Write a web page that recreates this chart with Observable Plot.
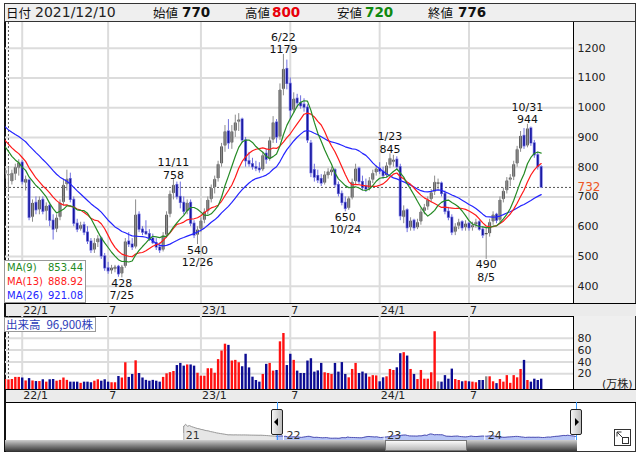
<!DOCTYPE html>
<html><head><meta charset="utf-8">
<script src="https://cdn.jsdelivr.net/npm/d3@7"></script>
<script src="https://cdn.jsdelivr.net/npm/@observablehq/plot@0.6"></script>
<style>
body{margin:0;background:#fff;font-family:"DejaVu Sans","Noto Sans CJK JP",sans-serif;}
#root{position:relative;width:640px;height:455px;overflow:hidden;background:#fff;}
.a{position:absolute;box-sizing:border-box;}
.hd{position:absolute;top:3px;height:19px;line-height:19px;white-space:nowrap;}
.cjk{font-family:"Noto Sans CJK JP",sans-serif;font-size:12.5px;color:#111;}
.num{font-family:"DejaVu Sans",sans-serif;font-weight:bold;font-size:13.5px;color:#111;}
.ma{position:absolute;left:2px;right:2px;height:14px;line-height:14px;font-size:10px;font-family:"DejaVu Sans",sans-serif;}
.ma span{position:absolute;right:0;}
</style></head>
<body><div id="root">
  <div class="a" style="left:4px;top:3px;width:632px;height:449px;border:1px solid #333;"></div>
  <div class="a" style="left:4px;top:3px;width:632px;height:19px;background:#efefef;border:1px solid #333;"></div>
  <div class="a" style="left:573px;top:22px;width:63px;height:281px;background:#efefef;border-left:1px solid #000;border-right:1px solid #333;"></div>
  <div class="a" style="left:4px;top:303px;width:632px;height:14px;background:#ebebeb;border-top:1px solid #000;border-bottom:1px solid #000;"></div>
  <div class="a" style="left:573px;top:316px;width:63px;height:74px;background:#efefef;border-left:1px solid #000;border-right:1px solid #333;"></div>
  <div class="a" style="left:4px;top:389px;width:632px;height:14px;background:#ebebeb;border-top:1px solid #000;border-bottom:1px solid #000;"></div>
  <div class="a" style="left:4px;top:22px;width:2px;height:430px;background:#111;"></div>

  <span class="hd cjk" style="left:6px">日付</span>
  <span class="hd" style="left:35px;font-size:14px;color:#222;">2021/12/10</span>
  <span class="hd cjk" style="left:153px">始値</span>
  <span class="hd num" style="left:182px">770</span>
  <span class="hd cjk" style="left:245px">高値</span>
  <span class="hd num" style="left:272px;color:#e8000b">800</span>
  <span class="hd cjk" style="left:337px">安値</span>
  <span class="hd num" style="left:365px;color:#108a10">720</span>
  <span class="hd cjk" style="left:428px">終値</span>
  <span class="hd num" style="left:458px">776</span>

  <div id="price" class="a" style="left:0;top:22px;"></div>
  <div id="vol" class="a" style="left:0;top:316px;"></div>
  <div id="nav" class="a" style="left:0;top:402px;"></div>

  <div class="a" style="left:4px;top:260px;width:82px;height:43px;background:#fff;border:1px solid #999;">
    <div class="ma" style="top:0;color:#248a24">MA(9)<span>853.44</span></div>
    <div class="ma" style="top:14px;color:#ff2020">MA(13)<span>888.92</span></div>
    <div class="ma" style="top:28px;color:#2424ff">MA(26)<span>921.08</span></div>
  </div>
  <div class="a" style="left:4px;top:317px;width:92px;height:15px;background:#fff;border:1px solid #999;color:#2d3cb8;font-family:'Noto Sans CJK JP',sans-serif;font-size:11.5px;line-height:13px;">
    <span style="position:absolute;left:1px;">出来高</span><span style="position:absolute;right:2px;">96,900株</span>
  </div>

  <div class="a" style="left:277px;top:402px;width:1px;height:38px;background:#3a9bff;"></div>
  <div class="a" style="left:576px;top:402px;width:1px;height:38px;background:#3a9bff;"></div>
  <div class="a" style="left:271px;top:409px;width:12px;height:26px;border:1px solid #222;border-radius:2px;background:linear-gradient(90deg,#f6f6f6,#bdbdbd);"></div>
  <div class="a" style="left:274px;top:418px;width:0;height:0;border-top:4px solid transparent;border-bottom:4px solid transparent;border-right:4px solid #000;"></div>
  <div class="a" style="left:570px;top:409px;width:12px;height:26px;border:1px solid #222;border-radius:2px;background:linear-gradient(90deg,#f6f6f6,#bdbdbd);"></div>
  <div class="a" style="left:575px;top:418px;width:0;height:0;border-top:4px solid transparent;border-bottom:4px solid transparent;border-left:4px solid #000;"></div>
  <div class="a" style="left:5px;top:440px;width:572px;height:11px;background:linear-gradient(#cfcfcf,#8a8a8a 45%,#3c3c3c);"></div>
  <div class="a" style="left:385px;top:440px;width:82px;height:11px;border:1px solid #777;background:linear-gradient(#fafafa,#b9b9b9);"></div>
  <svg class="a" style="left:614px;top:429px" width="18" height="18"><rect x="0.5" y="0.5" width="16" height="16" fill="#fff" stroke="#333"/><rect x="8.5" y="8.5" width="6" height="6" fill="none" stroke="#333"/><path d="M3 3L9 9M3 3L3 7.5M3 3L7.5 3" stroke="#333" fill="none"/></svg>
</div>
<script>
// ---------- data (weekly, week index 0 = week of 2022-01-03) ----------
const firstWeek = -5;
const opens = [775,770,750,775,795, 815,745,755,630,680,655,690,650,670,620, 590,630,680,740,760,690,610,590,605,580, 550,520,545,560,500,460,450,455,465,440, 465,550,540,530,640,590,582,575,560,545, 530,520,570,640,710,740,700,680,650,680, 610,570,590,620,650,690,730,760,810,870, 920,880,920,950,960,890,820,810,800,795, 790,845,825,890,950,900,1060,1130,1080,990, 1030,1015,1010,1000,880,790,770,760,745,770, 780,790,740,710,680,660,695,750,795,750, 735,725,755,780,795,785,770,805,815,825, 800,630,655,595,620,595,615,650,665,690, 715,745,745,710,650,630,580,600,615,595, 610,595,605,615,590,575,575,615,640,620, 690,720,755,765,810,860,905,870,930,880, 840,800];
const highs = [800,800,790,810,825, 822,770,760,690,700,700,700,680,680,640, 640,690,760,790,780,700,625,615,615,600, 560,560,570,565,510,480,470,470,470,470, 560,580,560,690,650,600,620,590,575,560, 545,580,650,720,758,750,750,700,690,690, 620,600,630,660,700,740,770,820,880,940, 960,940,975,980,965,900,850,830,820,815, 850,860,900,970,960,1080,1179,1160,1100,1050, 1045,1040,1030,1010,890,810,790,775,785,795, 800,795,750,720,700,700,760,810,800,770, 760,765,790,805,815,800,815,845,840,835, 810,670,660,630,625,625,660,675,700,725, 770,760,750,720,665,640,610,625,620,620, 615,615,625,620,600,600,625,650,645,700, 730,765,775,820,870,920,930,944,935,890, 850,805];
const lows = [760,720,740,755,770, 740,720,620,615,640,640,640,620,600,555, 580,620,670,720,680,600,580,585,570,540, 510,510,530,490,450,440,440,445,430,428, 460,530,520,525,580,570,570,550,540,520, 510,515,560,630,690,690,660,640,640,600, 560,540,580,610,640,680,710,750,800,850, 860,860,900,920,880,800,800,790,785,780, 785,810,820,880,880,890,1040,1060,960,980, 1000,995,985,880,765,750,745,735,740,760, 770,730,700,670,650,655,690,740,740,720, 715,720,745,770,775,760,765,795,800,790, 620,610,580,585,585,590,605,640,655,680, 705,720,700,640,620,570,570,590,585,585, 585,585,595,585,560,490,565,605,610,615, 680,710,735,755,800,850,860,865,870,830, 790,728];
const closes = [790,776,780,800,815, 750,760,630,680,655,690,650,670,620,590, 630,680,740,760,690,610,590,605,580,550, 520,545,560,500,460,450,462,465,440,465, 550,540,530,640,590,580,575,560,545,530, 520,570,640,710,740,700,680,650,680,610, 570,590,620,650,690,730,760,810,870,920, 880,920,950,960,890,820,810,800,795,790, 840,825,890,950,900,1060,1130,1080,990,1030, 1015,1005,1000,890,780,765,755,745,775,785, 792,740,710,680,660,695,750,795,750,730, 725,755,780,795,785,770,805,830,825,800, 635,655,595,620,595,615,650,665,690,715, 750,745,710,650,630,580,600,615,595,610, 595,605,615,590,570,575,615,640,620,690, 720,755,765,810,860,905,870,930,880,840, 800,732];
// weekly volume, 万株
const volumes = [10.5,9.7,10.5,14,14, 13,8,12,8,7,7,10,6,10,10.5, 7.6,9,13,9,6,6,6,4,6,6, 5,7.6,10,7.6,10,6,5,5,15.5,13, 38.7,14,19,42,20.6,13,9,7.6,9,7.6, 6,14,20,22,24,34,37.6,33,35,35, 33,21,16,16,28.6,28.6,21,44,58.5,70, 68,41.6,42.7,38.7,32,53,30,14.4,8.8,6, 19,36,37.6,24.6,25.7,74,88,34,53,42.7, 24.6,20.6,20.6,41.6,45.5,22.9,25,37.6,21.8,20.6, 19,37.6,22.9,39,19,13.3,27.4,37.6,20.6,23, 20,14.4,17,16.5,6.6,13.3,15,27.4,25.7,30.2, 54,55.7,50,27.4,19,10.4,25.7,11,11,21.8, 91,6.6,6,17,11,28,10.4,8.8,6.6,7.6, 6.6,6,5,8.8,8.8,15,15,6.6,3.5,10.4, 6,17,4,17,13.3,27.4,42.7,8.8,6,11, 8.8,11];
// weekly closes before the visible range (weeks -52 .. -6), for MAs and the navigator
const preWeek = -52;
const closes2021 = [2300,2650,2350,2450,2300,2200,2100,2000,1950,1850,1800,1700,1650,1600,1500,1450,1380,1300,1250,1200,1150,1100,1050, 990,1000,985,975,990,970,980,965,975,970, 960,950,945,940,935,930,920, 930,910,900,880,860,830,803];
const priceTicks = [400,500,600,700,800,900,1000,1100,1200];
const volTicks = [20,40,60,80];
const tickWeeks = [0,25,52,78,104,130];
const tickLabels = ["22/1","7","23/1","7","24/1","7"];
const navYears = [2021,2022,2023,2024];
const navLabels = ["21","22","23","24"];
const highNotes = [{w:44,v:758,d:"11/11"},{w:76,v:1179,d:"6/22"},{w:107,v:845,d:"1/23"},{w:147,v:944,d:"10/31"}];
const lowNotes = [{w:29,v:428,d:"7/25"},{w:51,v:540,d:"12/26"},{w:94,v:650,d:"10/24"},{w:135,v:490,d:"8/5"}];
const currentPrice = 732;
const crossWeek = -4;
const volUnit = "(万株)";

// ---------- helpers / layout calibration ----------
const W0 = Date.UTC(2022,0,3), DAY = 864e5;
const wk = w => new Date(W0 + w*7*DAY);
const PXW = 3.437, XW0 = 21.7;
const xDomain = [wk((5 - XW0)/PXW), wk((573 - XW0)/PXW)];
const tickDates = tickWeeks.map(wk);
const labelOf = new Map(tickDates.map((d,i)=>[+d, tickLabels[i]]));

const rows = closes.map((c,i)=>({
  date: wk(firstWeek+i), open: opens[i], high: highs[i], low: lows[i], close: c, vol: volumes[i],
  dir: c > opens[i] ? "up" : c < opens[i] ? "down" : "flat"
}));
const preRows = closes2021.map((c,i)=>({date: wk(preWeek+i), close: c}));
const allRows = preRows.concat(rows);

const font = '"DejaVu Sans","Noto Sans CJK JP",sans-serif';
const grid = {stroke:"#dcdcdc", strokeWidth:2};
const dash = {stroke:"#555", strokeDasharray:"2,2", strokeWidth:1};
const wickC = {up:"#8c8c8c", down:"#6e6ede", flat:"#8c8c8c"};
const outerC = {up:"#4d4d4d", down:"#7676e2", flat:"#4d4d4d"};
const innerC = {up:"#8e8e8e", down:"#15159e", flat:"#8e8e8e"};
const volC = {up:"#ff1010", down:"#0c0c92", flat:"#8c8c8c"};

const price = Plot.plot({
  width:640, height:294, marginLeft:5, marginRight:67, marginTop:0, marginBottom:13,
  style:{background:"transparent", fontFamily:font, fontSize:"11px", color:"#222"},
  x:{type:"utc", domain:xDomain, label:null},
  y:{domain:[341.8,1286.4], label:null},
  color:{type:"identity"},
  marks:[
    Plot.ruleY(priceTicks, grid),
    Plot.ruleX(tickDates, grid),
    Plot.ruleY([currentPrice], dash),
    Plot.ruleX([wk(crossWeek)], dash),
    Plot.ruleX(rows, {x:"date", y1:"low", y2:"high", stroke:d=>wickC[d.dir], strokeWidth:1, clip:true}),
    Plot.ruleX(rows, {x:"date", y1:"open", y2:"close", stroke:d=>outerC[d.dir], strokeWidth:3, insetTop:-0.6, insetBottom:-0.6, clip:true}),
    Plot.ruleX(rows, {x:"date", y1:"open", y2:"close", stroke:d=>innerC[d.dir], strokeWidth:1.5, clip:true}),
    Plot.lineY(allRows, Plot.windowY({k:26, anchor:"end"}, {x:"date", y:"close", stroke:"#2424ff", strokeWidth:1.2, clip:true})),
    Plot.lineY(allRows, Plot.windowY({k:13, anchor:"end"}, {x:"date", y:"close", stroke:"#ff1a1a", strokeWidth:1.2, clip:true})),
    Plot.lineY(allRows, Plot.windowY({k:9, anchor:"end"}, {x:"date", y:"close", stroke:"#248a24", strokeWidth:1.2, clip:true})),
    Plot.text(highNotes, {x:d=>wk(d.w), y:"v", text:d=>`${d.d}\n${d.v}`, lineAnchor:"bottom", lineHeight:1.15, dy:-1, fill:"#111", fontSize:11}),
    Plot.text(lowNotes, {x:d=>wk(d.w), y:"v", text:d=>`${d.v}\n${d.d}`, lineAnchor:"top", lineHeight:1.15, dy:0, fill:"#111", fontSize:11}),
    Plot.axisY({anchor:"right", ticks:priceTicks, tickFormat:d=>String(d), tickSize:0, tickPadding:4, label:null, fill:"#222"}),
    Plot.axisX({ticks:tickDates, tickFormat:d=>labelOf.get(+d), tickSize:0, tickPadding:3, textAnchor:"start", dx:1, label:null, fill:"#222"}),
    Plot.text([currentPrice], {y:d=>d, text:d=>String(d), frameAnchor:"right", textAnchor:"start", dx:4, fill:"#ee5522", fontSize:12})
  ]
});
document.getElementById("price").appendChild(price);

const volFloor = -6.4;
const vol = Plot.plot({
  width:640, height:86, marginLeft:5, marginRight:67, marginTop:0, marginBottom:13,
  style:{background:"transparent", fontFamily:font, fontSize:"11px", color:"#222"},
  x:{type:"utc", domain:xDomain, label:null},
  y:{domain:[volFloor,116.7], label:null},
  color:{type:"identity"},
  marks:[
    Plot.ruleY(volTicks, grid),
    Plot.ruleX(tickDates, grid),
    Plot.ruleX([wk(crossWeek)], dash),
    Plot.ruleX(rows, {x:"date", y1:()=>volFloor, y2:"vol", stroke:d=>volC[d.dir], strokeWidth:2.4, clip:true}),
    Plot.axisY({anchor:"right", ticks:volTicks, tickFormat:d=>String(d), tickSize:0, tickPadding:4, label:null, fill:"#222"}),
    Plot.axisX({ticks:tickDates, tickFormat:d=>labelOf.get(+d), tickSize:0, tickPadding:2, textAnchor:"start", dx:1, label:null, fill:"#222"}),
    Plot.text([volUnit], {frameAnchor:"bottom-right", textAnchor:"end", lineAnchor:"bottom", dx:59, dy:-2, fill:"#222", fontSize:11})
  ]
});
document.getElementById("vol").appendChild(vol);

// navigator
const NAV_Y0 = Date.UTC(2022,0,1), NAV_X22 = 283, NAV_PXD = 100.7/365.25;
const navDomain = [new Date(NAV_Y0 - (NAV_X22-5)/NAV_PXD*DAY), new Date(NAV_Y0 + (578-NAV_X22)/NAV_PXD*DAY)];
const navBase = 100;
const splitDate = wk(crossWeek);
const navPast = allRows.filter(d => d.date <= splitDate);
const navSel = allRows.filter(d => d.date >= splitDate);
const yearDates = navYears.map(y => new Date(Date.UTC(y,0,1)));
const nav = Plot.plot({
  width:640, height:38, marginLeft:5, marginRight:62, marginTop:0, marginBottom:0,
  style:{background:"transparent", fontFamily:font, fontSize:"11px", color:"#222"},
  x:{type:"utc", domain:navDomain, axis:null},
  y:{domain:[navBase,6100], axis:null},
  marks:[
    Plot.areaY(navPast, {x:"date", y1:()=>navBase, y2:"close", fill:"#e6e6e6"}),
    Plot.lineY(navPast, {x:"date", y:"close", stroke:"#9a9a9a", strokeWidth:1}),
    Plot.ruleX(navPast.slice(0,1), {x:"date", y1:()=>navBase, y2:"close", stroke:"#9a9a9a"}),
    Plot.areaY(navSel, {x:"date", y1:()=>navBase, y2:"close", fill:"#b8c6f6"}),
    Plot.lineY(navSel, {x:"date", y:"close", stroke:"#5252b2", strokeWidth:1}),
    Plot.ruleX(yearDates, {stroke:"#fff", strokeWidth:1, insetTop:31}),
    Plot.text(yearDates, {x:d=>d, text:(d,i)=>navLabels[i], frameAnchor:"bottom", lineAnchor:"bottom", textAnchor:"start", dx:3, dy:-2, fill:"#333", fontSize:11})
  ]
});
document.getElementById("nav").appendChild(nav);
</script>
</body></html>
